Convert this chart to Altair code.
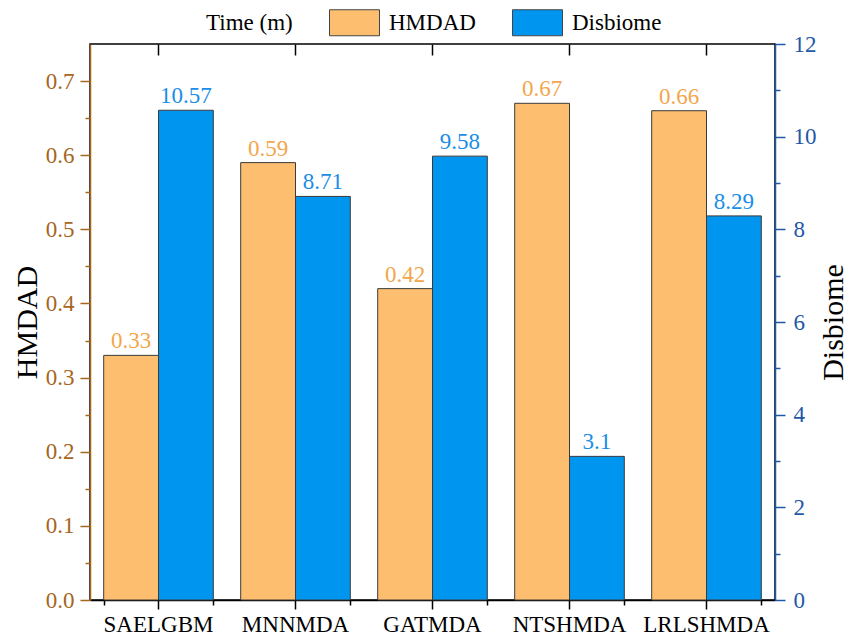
import altair as alt
import pandas as pd

categories = ["SAELGBM", "MNNMDA", "GATMDA", "NTSHMDA", "LRLSHMDA"]
series = ["HMDAD", "Disbiome"]
hmdad = [0.33, 0.59, 0.42, 0.67, 0.66]
disbiome = [10.57, 8.71, 9.58, 3.1, 8.29]
left_ticks = [round(i * 0.05, 2) for i in range(15)]
right_ticks = list(range(0, 13))

df = pd.DataFrame({
    "category": categories * 2,
    "series": [series[0]] * len(categories) + [series[1]] * len(categories),
    "value": hmdad + disbiome,
    "label": [str(v) for v in hmdad + disbiome],
})

SERIF = "Times New Roman, Liberation Serif, serif"
BROWN = "#A5661E"
DKBLUE = "#1F58A6"
ORANGE = "#FDBF6F"
BLUE = "#0096F0"
ORANGE_TXT = "#F3A64C"
BLUE_TXT = "#1A8DE6"

legend = alt.Legend(
    title="Time (m)", orient="none", legendX=116, legendY=-47,
    direction="horizontal", titleOrient="left", titleAnchor="middle",
    titleFont=SERIF, titleFontSize=23, titleFontWeight="normal", titleColor="black",
    titlePadding=36, titleBaseline="line-top", titleLineHeight=12,
    labelFont=SERIF, labelFontSize=23, labelColor="black", labelOffset=9,
    symbolType="M-1,-0.52H1V0.52H-1Z", symbolSize=2500,
    symbolStrokeColor="#444444", symbolStrokeWidth=1, symbolOpacity=1,
    columnPadding=34,
)
color = alt.Color("series:N", sort=series,
                  scale=alt.Scale(domain=series, range=[ORANGE, BLUE]), legend=legend)

xscale = alt.Scale(domain=categories, paddingInner=0.2, paddingOuter=0.1)
xo = alt.XOffset("series:N", sort=series, scale=alt.Scale(domain=series, paddingInner=0, paddingOuter=0))

x_bottom = alt.X("category:N", sort=categories, scale=xscale, axis=alt.Axis(
    title=None, orient="bottom", labelAngle=0, labelFont=SERIF, labelFontSize=23,
    labelColor="black", labelPadding=4, tickSize=9, tickWidth=1.5, tickColor="black",
    domainColor="black", domainWidth=1.5, grid=False))
x_top = alt.X("category:N", sort=categories, scale=xscale, axis=alt.Axis(
    title=None, orient="top", labels=False, domain=False, offset=-11,
    tickSize=11, tickWidth=1.5, tickColor="black", grid=False))
x_minor = alt.X("category:N", sort=categories, scale=xscale, axis=alt.Axis(
    title=None, orient="bottom", labels=False, domain=False, tickBand="extent",
    tickSize=5, tickWidth=1.5, tickColor="black", grid=False))

major_l = "abs(datum.value*10 - round(datum.value*10)) < 0.001"
y_left = alt.Y("value:Q", scale=alt.Scale(domain=[0, 0.75], nice=False, zero=True), axis=alt.Axis(
    title="HMDAD", orient="left", values=left_ticks, grid=False, labelOverlap=False,
    labelExpr=f"({major_l}) ? format(datum.value, '.1f') : ''",
    tickSize={"condition": {"test": major_l, "value": 10}, "value": 5},
    tickWidth=1.5, tickColor=BROWN, domainColor=BROWN, domainWidth=1.5,
    labelColor=BROWN, labelFont=SERIF, labelFontSize=23, labelPadding=6,
    titleFont=SERIF, titleFontSize=30, titleFontWeight="normal", titleColor="black",
    titlePadding=3))

major_r = "datum.value % 2 == 0"
y_right = alt.Y("value:Q", scale=alt.Scale(domain=[0, 12], nice=False, zero=True), axis=alt.Axis(
    title="Disbiome", orient="right", values=right_ticks, grid=False, labelOverlap=False,
    labelExpr=f"({major_r}) ? format(datum.value, 'd') : ''",
    tickSize={"condition": {"test": major_r, "value": 10}, "value": 5},
    tickWidth=1.5, tickColor=DKBLUE, domainColor=DKBLUE, domainWidth=1.5,
    labelColor=DKBLUE, labelFont=SERIF, labelFontSize=23, labelPadding=8,
    titleFont=SERIF, titleFontSize=30, titleFontWeight="normal", titleColor="black",
    titleAngle=270, titleBaseline="top", titlePadding=2))

base = alt.Chart(df)
left_bars = base.transform_filter(f"datum.series == '{series[0]}'").mark_bar(
    stroke="#3a3a3a", strokeWidth=1).encode(x=x_bottom, xOffset=xo, y=y_left, color=color)
left_text = base.transform_filter(f"datum.series == '{series[0]}'").mark_text(
    font=SERIF, fontSize=23, baseline="bottom", dy=-2, color=ORANGE_TXT).encode(
    x=x_bottom, xOffset=xo, y=y_left, text="label:N")
right_bars = base.transform_filter(f"datum.series == '{series[1]}'").mark_bar(
    stroke="#3a3a3a", strokeWidth=1).encode(x=x_top, xOffset=xo, y=y_right, color=color)
right_text = base.transform_filter(f"datum.series == '{series[1]}'").mark_text(
    font=SERIF, fontSize=23, baseline="bottom", dy=-2, color=BLUE_TXT).encode(
    x=x_top, xOffset=xo, y=y_right, text="label:N")
minor = base.mark_bar(opacity=0).encode(x=x_minor)

left = alt.layer(left_bars, left_text)
right = alt.layer(right_bars, right_text)

chart = alt.layer(left, right, minor).resolve_scale(y="independent").resolve_axis(
    x="independent", y="independent").properties(
    width=685, height=556,
    padding={"left": 82, "top": 36, "right": 74, "bottom": 35},
    autosize=alt.AutoSizeParams(type="none"),
).configure_view(stroke="black", strokeWidth=1.5)

chart.save("out.html", embed_options={"renderer": "svg", "actions": False})
